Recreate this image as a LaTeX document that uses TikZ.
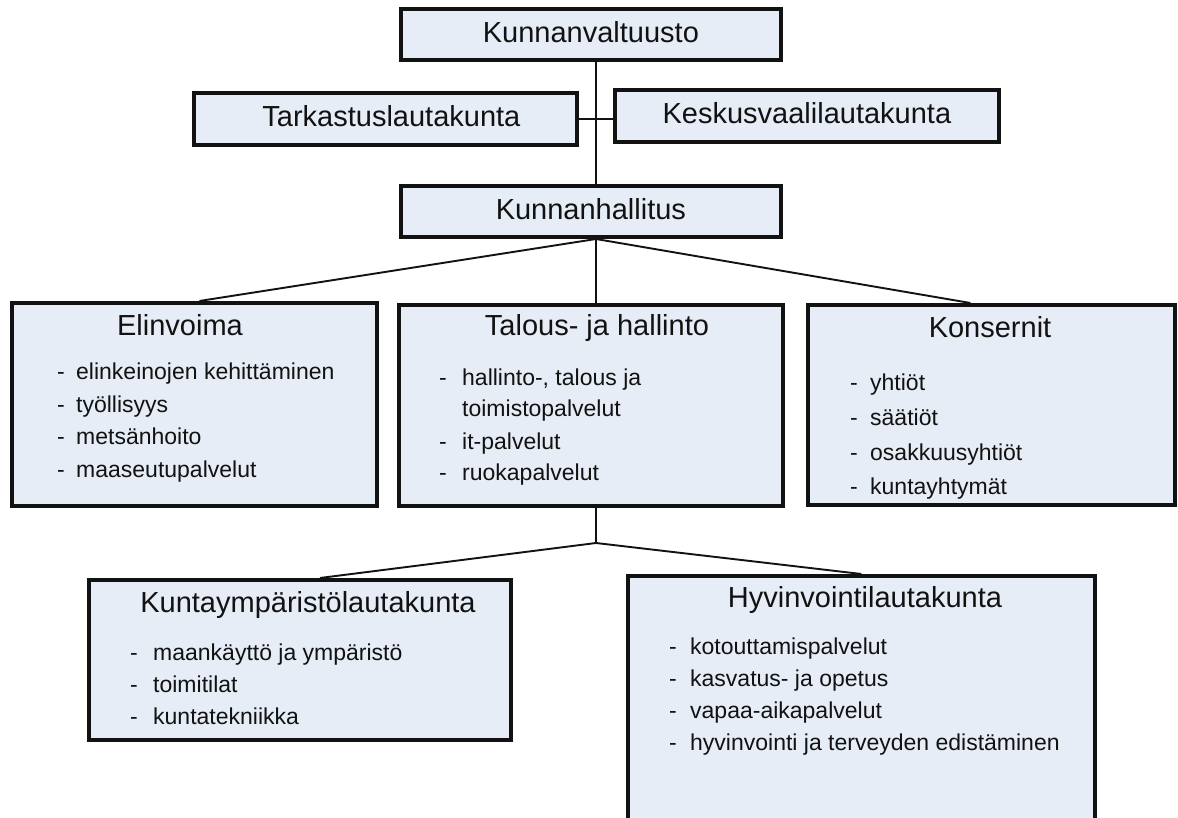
\documentclass[tikz,border=0pt]{standalone}
\usepackage{fontspec}
\setmainfont{Liberation Sans}
\usetikzlibrary{calc}
\definecolor{boxfill}{RGB}{230,237,246}
\definecolor{ink}{RGB}{18,18,18}
\begin{document}
\begin{tikzpicture}[x=1pt,y=-1pt,
  orgbox/.style={draw=ink, line width=3.8pt, fill=boxfill, inner sep=0pt, anchor=north west},
  link/.style={draw=ink, line width=1.9pt},
  ttl/.style={inner sep=0pt, anchor=mid, yshift=-5pt, font=\fontsize{29}{34}\selectfont, text=ink},
  itm/.style={inner sep=0pt, anchor=mid west, yshift=-5pt, font=\fontsize{23}{28}\selectfont, text=ink},
]
\useasboundingbox (0,0) rectangle (1178,818);
\fill[white] (0,0) rectangle (1178,818);
\clip (0,0) rectangle (1178,818);

% boxes
\node[orgbox, minimum width=380pt, minimum height=51pt] (valt) at (399,7) {};
\node[orgbox, minimum width=383pt, minimum height=52pt] (tark) at (192,91) {};
\node[orgbox, minimum width=384pt, minimum height=52pt] (kesk) at (613,88) {};
\node[orgbox, minimum width=380pt, minimum height=51pt] (hall) at (399,184) {};
\node[orgbox, minimum width=365pt, minimum height=203pt] (elin) at (10,301) {};
\node[orgbox, minimum width=384pt, minimum height=201pt] (talo) at (397,303) {};
\node[orgbox, minimum width=367pt, minimum height=200pt] (kons) at (806,303) {};
\node[orgbox, minimum width=422pt, minimum height=160pt] (kymp) at (87,578) {};
\node[orgbox, minimum width=467pt, minimum height=300pt] (hyvi) at (626,574) {};

% connectors
\coordinate (sp) at (596,0);
\coordinate (a1) at (596,239);
\coordinate (a2) at (596,543);
\draw[link] (valt.south -| sp) -- (hall.north -| sp);
\draw[link] (tark.east) -- (tark.east -| kesk.west);
\draw[link] (a1) -- ([xshift=5pt]elin.north);
\draw[link] (a1) -- (talo.north -| sp);
\draw[link] (a1) -- ([xshift=-21pt]kons.north);
\draw[link] (talo.south -| sp) -- (a2);
\draw[link] (a2) -- ([xshift=20pt]kymp.north);
\draw[link] (a2) -- (hyvi.north);

% titles
\node[ttl] (tvalt) at (valt.center) {Kunnanvaltuusto};
\node[ttl] (ttark) at ([xshift=6pt]tark.center) {Tarkastuslautakunta};
\node[ttl] (tkesk) at (kesk.center) {Keskusvaalilautakunta};
\node[ttl] (thall) at (hall.center) {Kunnanhallitus};
\node[ttl] (telin) at (180,328) {Elinvoima};
\node[ttl] (ttalo) at (597,328) {Talous- ja hallinto};
\node[ttl] (tkons) at (990,330) {Konsernit};
\node[ttl] (tkymp) at (308,605) {Kuntaympäristölautakunta};
\node[ttl] (thyvi) at (865,600) {Hyvinvointilautakunta};

% Elinvoima items
\node[itm] (ed1) at (57,372) {-};  \node[itm] (e1) at (76,372) {elinkeinojen kehittäminen};
\node[itm] (ed2) at (57,405) {-};  \node[itm] (e2) at (76,405) {työllisyys};
\node[itm] (ed3) at (57,437) {-};  \node[itm] (e3) at (76,437) {metsänhoito};
\node[itm] (ed4) at (57,470) {-};  \node[itm] (e4) at (76,470) {maaseutupalvelut};

% Talous items
\node[itm] (td1) at (439,378) {-}; \node[itm] (t1) at (462,378) {hallinto-, talous ja};
                                   \node[itm] (t1b) at (462,409) {toimistopalvelut};
\node[itm] (td2) at (439,442) {-}; \node[itm] (t2) at (462,442) {it-palvelut};
\node[itm] (td3) at (439,473) {-}; \node[itm] (t3) at (462,473) {ruokapalvelut};

% Konsernit items
\node[itm] (kd1) at (850,383) {-}; \node[itm] (k1) at (870,383) {yhtiöt};
\node[itm] (kd2) at (850,418) {-}; \node[itm] (k2) at (870,418) {säätiöt};
\node[itm] (kd3) at (850,453) {-}; \node[itm] (k3) at (870,453) {osakkuusyhtiöt};
\node[itm] (kd4) at (850,487) {-}; \node[itm] (k4) at (870,487) {kuntayhtymät};

% Kuntaympäristö items
\node[itm] (yd1) at (130,653) {-}; \node[itm] (y1) at (153,653) {maankäyttö ja ympäristö};
\node[itm] (yd2) at (130,685) {-}; \node[itm] (y2) at (153,685) {toimitilat};
\node[itm] (yd3) at (130,717) {-}; \node[itm] (y3) at (153,717) {kuntatekniikka};

% Hyvinvointi items
\node[itm] (hd1) at (669,647) {-}; \node[itm] (h1) at (690,647) {kotouttamispalvelut};
\node[itm] (hd2) at (669,679) {-}; \node[itm] (h2) at (690,679) {kasvatus- ja opetus};
\node[itm] (hd3) at (669,711) {-}; \node[itm] (h3) at (690,711) {vapaa-aikapalvelut};
\node[itm] (hd4) at (669,743) {-}; \node[itm] (h4) at (690,743) {hyvinvointi ja terveyden edistäminen};
\end{tikzpicture}
\end{document}
